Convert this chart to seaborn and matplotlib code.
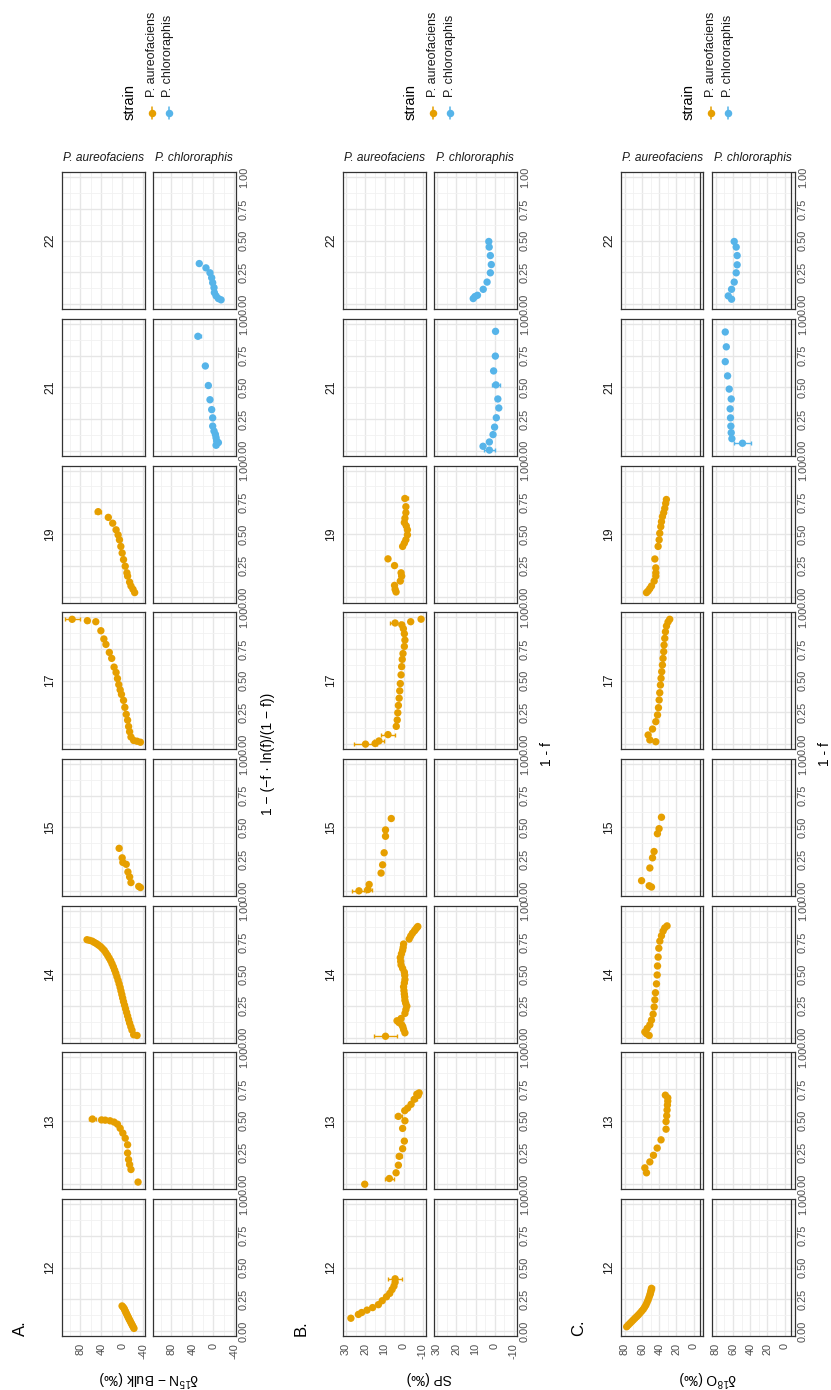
import matplotlib
matplotlib.use("Agg")
import matplotlib.pyplot as plt
from matplotlib.lines import Line2D
import pandas as pd
import seaborn as sns

sns.set_theme(style="white")
plt.rcParams["font.family"] = ["Liberation Sans", "DejaVu Sans"]
plt.rcParams["mathtext.fontset"] = "custom"
plt.rcParams["mathtext.rm"] = "Liberation Sans"
plt.rcParams["mathtext.it"] = "Liberation Sans:italic"
plt.rcParams["axes.unicode_minus"] = False

STRAINS = ["P. aureofaciens", "P. chlororaphis"]
COLORS = {"P. aureofaciens": "#E69F00", "P. chlororaphis": "#56B4E9"}
EXPERIMENTS = [12, 13, 14, 15, 17, 19, 21, 22]
FRAC_TICKS = [0.0, 0.25, 0.5, 0.75, 1.0]
FRAC_LABELS = ["0.00", "0.25", "0.50", "0.75", "1.00"]

# ---------------- A. d15N bulk vs 1 - (-f ln f / (1 - f)) ----------------
n15_12_frac = [0.020, 0.032, 0.044, 0.056, 0.068, 0.080, 0.092, 0.104, 0.116, 0.128, 0.140, 0.152, 0.164, 0.176, 0.187, 0.197]
n15_12_val = [-22.0, -20.4, -18.9, -17.4, -15.9, -14.4, -12.9, -11.5, -10.1, -8.7, -7.3, -6.0, -4.6, -3.4, -1.5, 0.6]

n15_13_frac = [0.017, 0.116, 0.155, 0.194, 0.246, 0.311, 0.363, 0.403, 0.441, 0.473, 0.490, 0.500, 0.505, 0.507, 0.514]
n15_13_val = [-29.7, -16.3, -13.7, -11.8, -9.9, -9.9, -5.4, -0.9, 4.2, 9.3, 15.7, 23.4, 32.4, 39.4, 56.7]
n15_13_err = {14: 6.0}

n15_14_frac = [0.016, 0.022, 0.058, 0.085, 0.114, 0.142, 0.170, 0.198, 0.227, 0.255, 0.283, 0.311, 0.339, 0.367, 0.395,
               0.423, 0.451, 0.479, 0.507, 0.532, 0.557, 0.581, 0.605, 0.626, 0.647, 0.667, 0.687, 0.702, 0.717, 0.729,
               0.740, 0.750, 0.760, 0.766, 0.771]
n15_14_val = [-27.8, -21.4, -18.2, -16.0, -13.7, -11.8, -9.9, -8.0, -6.0, -4.1, -2.2, -0.6, 1.0, 2.6, 4.2,
              6.1, 8.1, 10.3, 12.5, 14.7, 17.0, 19.5, 22.1, 25.0, 27.9, 31.1, 34.3, 37.8, 41.3, 45.2,
              49.0, 53.2, 57.3, 62.1, 66.9]

n15_15_frac = [0.026, 0.035, 0.065, 0.110, 0.149, 0.209, 0.224, 0.260, 0.335]
n15_15_val = [-34.2, -31.0, -16.3, -13.7, -10.5, -7.3, -0.9, 0.4, 6.1]

n15_17_frac = [0.015, 0.023, 0.029, 0.056, 0.098, 0.139, 0.189, 0.235, 0.290, 0.345, 0.392, 0.428, 0.469, 0.517,
               0.565, 0.607, 0.676, 0.723, 0.786, 0.829, 0.894, 0.965, 0.973, 0.984]
n15_17_val = [-34.2, -27.8, -21.4, -16.3, -13.7, -11.8, -9.9, -7.3, -4.7, -2.2, 1.7, 4.2, 6.8, 9.3,
              11.9, 15.7, 20.2, 24.7, 31.1, 35.0, 40.7, 50.3, 66.3, 95.1]
n15_17_err = {22: 3.0, 23: 14.0}

n15_19_frac = [0.038, 0.064, 0.090, 0.121, 0.168, 0.194, 0.246, 0.298, 0.350, 0.402, 0.454, 0.493, 0.533, 0.585, 0.631, 0.676]
n15_19_val = [-23.3, -20.1, -16.3, -13.7, -9.9, -8.6, -5.4, -2.2, 0.4, 2.9, 5.5, 8.1, 11.9, 18.3, 26.6, 45.8]
n15_19_err = {15: 6.0}

n15_21_frac = [0.043, 0.064, 0.077, 0.103, 0.129, 0.155, 0.194, 0.259, 0.324, 0.402, 0.514, 0.668, 0.902]
n15_21_val = [-5.1, -9.5, -6.3, -5.1, -3.8, -1.2, 1.3, 1.3, 3.2, 6.4, 9.5, 15.2, 29.2]
n15_21_err = {0: 4.0, 12: 5.0}

n15_22_frac = [0.033, 0.043, 0.064, 0.090, 0.129, 0.168, 0.207, 0.246, 0.285, 0.319]
n15_22_val = [-14.6, -9.5, -5.1, -1.9, -1.2, 1.3, 3.2, 6.4, 14.0, 26.7]

# ---------------- B. site preference vs 1 - f ----------------
sp_12_frac = [0.100, 0.130, 0.145, 0.164, 0.184, 0.207, 0.238, 0.269, 0.296, 0.326, 0.353, 0.384, 0.411]
sp_12_val = [27.5, 23.6, 21.9, 19.1, 16.2, 13.2, 11.2, 9.0, 7.3, 6.1, 5.1, 4.5, 4.5]
sp_12_err = {12: 3.5}

sp_13_frac = [0.000, 0.045, 0.090, 0.150, 0.220, 0.280, 0.340, 0.440, 0.500, 0.535, 0.580, 0.600, 0.630, 0.670, 0.700, 0.710, 0.720]
sp_13_val = [20.3, 7.5, 4.0, 2.8, 2.3, 0.6, -0.3, 0.6, -0.6, 2.8, -0.5, -2.0, -3.8, -5.5, -7.5, -6.8, -8.0]
sp_13_err = {1: 2.5, 4: 1.5, 9: 2.0, 13: 1.5}

sp_14_frac = [0.010, 0.037, 0.063, 0.085, 0.102, 0.118, 0.132, 0.150, 0.190, 0.220, 0.247, 0.270, 0.293, 0.320, 0.343,
              0.370, 0.400, 0.430, 0.457, 0.490, 0.515, 0.545, 0.572, 0.600, 0.630, 0.660, 0.687, 0.710, 0.737, 0.776,
              0.800, 0.822, 0.840, 0.852, 0.865, 0.875]
sp_14_val = [9.5, -0.6, 0.1, 0.5, 1.1, 2.5, 3.5, 1.4, -0.6, -1.1, -1.6, -1.0, -0.6, -0.5, -0.3,
             -0.1, 0.1, -0.3, -0.6, -0.5, -0.3, 0.6, 1.4, 1.6, 1.8, 1.2, 0.6, 0.3, 0.1, -2.8,
             -3.6, -4.5, -5.5, -6.1, -6.8, -7.3]
sp_14_err = {0: 5.8}

sp_15_frac = [0.000, 0.010, 0.050, 0.140, 0.205, 0.300, 0.430, 0.480, 0.570]
sp_15_val = [23.3, 18.6, 18.0, 11.8, 11.0, 10.2, 9.5, 9.5, 6.5]
sp_15_err = {0: 3.4, 1: 2.0}

sp_17_frac = [0.000, 0.005, 0.025, 0.075, 0.140, 0.190, 0.247, 0.305, 0.362, 0.420, 0.477, 0.546, 0.611, 0.668,
              0.714, 0.770, 0.820, 0.870, 0.910, 0.940, 0.955, 0.965, 0.985]
sp_17_val = [19.9, 14.9, 12.9, 8.2, 3.9, 3.4, 3.1, 2.8, 2.4, 2.1, 1.8, 1.4, 1.1, 0.8,
             0.4, -0.3, -0.6, -0.3, 0.2, 1.0, 4.5, -3.6, -9.0]
sp_17_err = {0: 6.0, 2: 2.5, 3: 3.5, 20: 2.5}

sp_19_frac = [0.043, 0.064, 0.095, 0.129, 0.168, 0.194, 0.251, 0.304, 0.402, 0.428, 0.454, 0.493, 0.533, 0.564,
              0.590, 0.624, 0.668, 0.715, 0.780]
sp_19_val = [4.0, 4.5, 4.8, 1.8, 1.1, 1.4, 4.8, 8.2, 0.6, -0.3, -1.1, -1.9, -1.9, -1.3,
             -0.3, -0.6, -1.1, -1.1, -0.6]
sp_19_err = {18: 1.5}

sp_21_frac = [0.005, 0.035, 0.069, 0.127, 0.186, 0.260, 0.337, 0.408, 0.519, 0.629, 0.746, 0.941]
sp_21_val = [2.8, 6.1, 2.8, 0.9, 0.1, -0.8, -2.1, -1.6, -0.6, 0.6, -0.3, -0.4]
sp_21_err = {0: 3.0, 8: 2.0}

sp_22_frac = [0.043, 0.059, 0.069, 0.116, 0.173, 0.246, 0.311, 0.382, 0.449, 0.493]
sp_22_val = [11.2, 10.3, 9.0, 6.0, 4.0, 2.3, 1.8, 2.3, 2.9, 3.1]

# ---------------- C. d18O vs 1 - f ----------------
o18_12_frac = [0.033, 0.047, 0.060, 0.073, 0.086, 0.099, 0.112, 0.125, 0.139, 0.155, 0.170, 0.187, 0.204, 0.224,
               0.244, 0.264, 0.283, 0.296, 0.309, 0.322, 0.336]
o18_12_val = [77.8, 75.9, 74.0, 72.1, 70.2, 68.3, 66.3, 64.4, 62.5, 60.5, 58.6, 57.0, 55.5, 54.2,
              52.9, 51.9, 50.9, 50.3, 49.8, 49.4, 49.0]
o18_12_err = {20: 3.0}

o18_13_frac = [0.090, 0.129, 0.176, 0.228, 0.285, 0.350, 0.434, 0.494, 0.540, 0.585, 0.624, 0.655, 0.681, 0.702]
o18_13_val = [54.8, 56.7, 50.9, 46.7, 42.4, 37.9, 32.1, 32.1, 31.3, 30.9, 30.5, 30.1, 30.1, 32.9]

o18_14_frac = [0.016, 0.030, 0.044, 0.072, 0.100, 0.137, 0.184, 0.241, 0.297, 0.353, 0.423, 0.493, 0.564, 0.634,
               0.704, 0.760, 0.802, 0.839, 0.864, 0.880]
o18_14_val = [51.7, 54.8, 56.7, 54.0, 50.9, 49.0, 47.1, 45.9, 45.1, 44.4, 43.2, 42.4, 42.0, 41.3,
              40.5, 39.3, 37.4, 35.5, 33.6, 30.9]

o18_15_frac = [0.030, 0.040, 0.080, 0.180, 0.260, 0.310, 0.450, 0.490, 0.580]
o18_15_val = [49.0, 51.7, 60.5, 50.9, 47.8, 46.0, 42.1, 40.2, 37.4]

o18_17_frac = [0.019, 0.033, 0.072, 0.119, 0.177, 0.230, 0.287, 0.348, 0.405, 0.466, 0.519, 0.571, 0.624, 0.676,
               0.729, 0.781, 0.834, 0.886, 0.931, 0.963, 0.984]
o18_17_val = [44.0, 50.9, 52.9, 47.8, 44.0, 42.0, 40.9, 40.1, 39.4, 38.6, 37.9, 37.1, 36.3, 35.6,
              34.8, 34.4, 33.6, 32.8, 31.6, 29.8, 27.8]

o18_19_frac = [0.038, 0.051, 0.069, 0.090, 0.129, 0.168, 0.194, 0.233, 0.303, 0.402, 0.454, 0.506, 0.558, 0.597,
               0.637, 0.668, 0.702, 0.741, 0.772]
o18_19_val = [54.8, 52.9, 51.0, 49.0, 45.9, 44.0, 44.0, 44.0, 45.1, 41.3, 40.1, 39.4, 38.2, 37.4,
              36.3, 34.8, 33.6, 32.5, 31.7]

o18_21_frac = [0.059, 0.095, 0.142, 0.194, 0.259, 0.330, 0.408, 0.486, 0.590, 0.702, 0.819, 0.936]
o18_21_val = [49.0, 61.3, 62.1, 62.5, 62.9, 63.3, 62.1, 64.4, 66.3, 69.0, 67.8, 69.0]
o18_21_err = {0: 10.0}

o18_22_frac = [0.038, 0.064, 0.116, 0.173, 0.246, 0.309, 0.382, 0.449, 0.493]
o18_22_val = [61.7, 65.5, 61.7, 58.6, 56.3, 55.2, 55.2, 56.3, 58.6]

records = []


def add(panel, exp, strain, frac, val, err=None):
    err = err or {}
    for i, (f, v) in enumerate(zip(frac, val)):
        records.append(dict(panel=panel, experiment=exp, strain=strain,
                            frac=f, value=v, err=err.get(i, 0.0)))


AU, CH = STRAINS
add("n15", 12, AU, n15_12_frac, n15_12_val)
add("n15", 13, AU, n15_13_frac, n15_13_val, n15_13_err)
add("n15", 14, AU, n15_14_frac, n15_14_val)
add("n15", 15, AU, n15_15_frac, n15_15_val)
add("n15", 17, AU, n15_17_frac, n15_17_val, n15_17_err)
add("n15", 19, AU, n15_19_frac, n15_19_val, n15_19_err)
add("n15", 21, CH, n15_21_frac, n15_21_val, n15_21_err)
add("n15", 22, CH, n15_22_frac, n15_22_val)

add("sp", 12, AU, sp_12_frac, sp_12_val, sp_12_err)
add("sp", 13, AU, sp_13_frac, sp_13_val, sp_13_err)
add("sp", 14, AU, sp_14_frac, sp_14_val, sp_14_err)
add("sp", 15, AU, sp_15_frac, sp_15_val, sp_15_err)
add("sp", 17, AU, sp_17_frac, sp_17_val, sp_17_err)
add("sp", 19, AU, sp_19_frac, sp_19_val, sp_19_err)
add("sp", 21, CH, sp_21_frac, sp_21_val, sp_21_err)
add("sp", 22, CH, sp_22_frac, sp_22_val)

add("o18", 12, AU, o18_12_frac, o18_12_val, o18_12_err)
add("o18", 13, AU, o18_13_frac, o18_13_val)
add("o18", 14, AU, o18_14_frac, o18_14_val)
add("o18", 15, AU, o18_15_frac, o18_15_val)
add("o18", 17, AU, o18_17_frac, o18_17_val)
add("o18", 19, AU, o18_19_frac, o18_19_val)
add("o18", 21, CH, o18_21_frac, o18_21_val, o18_21_err)
add("o18", 22, CH, o18_22_frac, o18_22_val)

df = pd.DataFrame(records)

SECTIONS = [
    dict(key="n15", tag="A.",
         vlabel=r"δ$^{\mathregular{15}}$N − Bulk (‰)",
         flabel="1 − (−f · ln(f)/(1 − f))",
         lim=(114.3, -41.9), major=[80, 40, 0, -40], minor=[100, 60, 20, -20],
         ref=None, off=0, ftitle_x=268),
    dict(key="sp", tag="B.",
         vlabel="SP (‰)", flabel="1 - f",
         lim=(31.6, -11.3), major=[30, 20, 10, 0, -10], minor=[25, 15, 5, -5],
         ref=None, off=281, ftitle_x=547),
    dict(key="o18", tag="C.",
         vlabel=r"δ$^{\mathregular{18}}$O (‰)", flabel="1 - f",
         lim=(84.4, -11.4), major=[80, 60, 40, 20, 0], minor=[70, 50, 30, 10, -10],
         ref=-7, off=559, ftitle_x=825),
]

W, H = 831, 1390
fig = plt.figure(figsize=(W / 100, H / 100), dpi=100)


def px(x):
    return x / W


def py(y):
    return 1 - y / H


PANEL_W, PANEL_H = 82.5, 137.0
PITCH = 146.7
BOTTOM = 1336.0
COL_STEP = 91.0
LEFT = 62.0
TICK_COLOR = "#4D4D4D"
TEXT_COLOR = "#1A1A1A"
TICK_SIZE = 7.9

for sec in SECTIONS:
    sdf = df[df.panel == sec["key"]]
    off = sec["off"]
    for k, exp in enumerate(EXPERIMENTS):
        y_bot = BOTTOM - k * PITCH
        for j, strain in enumerate(STRAINS):
            x0 = LEFT + off + j * COL_STEP
            ax = fig.add_axes([px(x0), py(y_bot), PANEL_W / W, PANEL_H / H])
            ax.set_axisbelow(True)
            ax.set_xticks(sec["major"])
            ax.set_xticks(sec["minor"], minor=True)
            ax.set_yticks(FRAC_TICKS)
            ax.set_yticks([0.125, 0.375, 0.625, 0.875], minor=True)
            ax.grid(which="major", color="#E6E6E6", lw=1.0)
            ax.grid(which="minor", color="#F1F1F1", lw=0.6)
            if sec["ref"] is not None:
                ax.axvline(sec["ref"], color="#333333", lw=0.9, zorder=1.5)
            sub = sdf[(sdf.experiment == exp) & (sdf.strain == strain)]
            if len(sub):
                eb = sub[sub.err > 0]
                if len(eb):
                    ax.errorbar(eb.value, eb.frac, xerr=eb.err, fmt="none",
                                ecolor=COLORS[strain], elinewidth=1.0,
                                capsize=1.6, capthick=1.0, zorder=2)
                sns.scatterplot(data=sub, x="value", y="frac", hue="strain",
                                palette=COLORS, ax=ax, legend=False, s=28,
                                edgecolor="none", linewidth=0, zorder=3)
            ax.set_xlim(*sec["lim"])
            ax.set_ylim(-0.04, 1.04)
            ax.set_xlabel("")
            ax.set_ylabel("")
            ax.tick_params(which="both", length=0)
            if k == 0:
                ax.set_xticklabels([str(m) for m in sec["major"]], rotation=90,
                                   fontsize=TICK_SIZE, color=TICK_COLOR)
                ax.tick_params(axis="x", pad=5.0)
            else:
                ax.tick_params(axis="x", labelbottom=False)
            if j == 1:
                ax.yaxis.tick_right()
                ax.set_yticklabels(FRAC_LABELS, rotation=90, va="center",
                                   fontsize=TICK_SIZE, color=TICK_COLOR)
                ax.tick_params(axis="y", which="both", length=0, pad=2.5,
                               labelleft=False, labelright=True)
            else:
                ax.tick_params(axis="y", labelleft=False)
            for sp in ax.spines.values():
                sp.set_color("#333333")
                sp.set_linewidth(0.9)

        # experiment strip label
        fig.text(px(50 + off), py(y_bot - PANEL_H / 2), str(exp), rotation=90,
                 ha="center", va="center", fontsize=8.8, color=TEXT_COLOR)

    # strain strip labels above the top row
    for j, strain in enumerate(STRAINS):
        xc = LEFT + off + j * COL_STEP + PANEL_W / 2
        fig.text(px(xc), py(158), strain, ha="center", va="center",
                 fontsize=8.6, style="italic", color=TEXT_COLOR)

    # section tag
    fig.text(px(20 + off), py(1328), sec["tag"], rotation=90, ha="center",
             va="center", fontsize=12, color="black")

    # value axis title (below the bottom row)
    xc = LEFT + off + (COL_STEP + PANEL_W) / 2
    fig.text(px(xc), py(1378), sec["vlabel"], rotation=180, ha="center",
             va="center", fontsize=10, color="black")

    # fraction axis title (right of the panels)
    fig.text(px(sec["ftitle_x"]), py((BOTTOM - 7 * PITCH - PANEL_H + BOTTOM) / 2),
             sec["flabel"], rotation=90, ha="center", va="center",
             fontsize=10, color="black")

    # legend
    fig.text(px(130 + off), py(120), "strain", rotation=90, ha="center",
             va="bottom", fontsize=10.5, color="black")
    for j, strain in enumerate(STRAINS):
        xk = 152 + 16.5 * j + off
        fig.add_artist(Line2D([px(xk), px(xk)], [py(107), py(119)],
                              color=COLORS[strain], lw=1.1,
                              transform=fig.transFigure))
        fig.add_artist(Line2D([px(xk)], [py(113)], marker="o", ms=5.4,
                              color=COLORS[strain], markeredgewidth=0,
                              transform=fig.transFigure))
        fig.text(px(xk), py(97), strain, rotation=90, ha="center", va="bottom",
                 fontsize=9.0, color=TEXT_COLOR)

fig.savefig("out.png", dpi=100, facecolor="white")
